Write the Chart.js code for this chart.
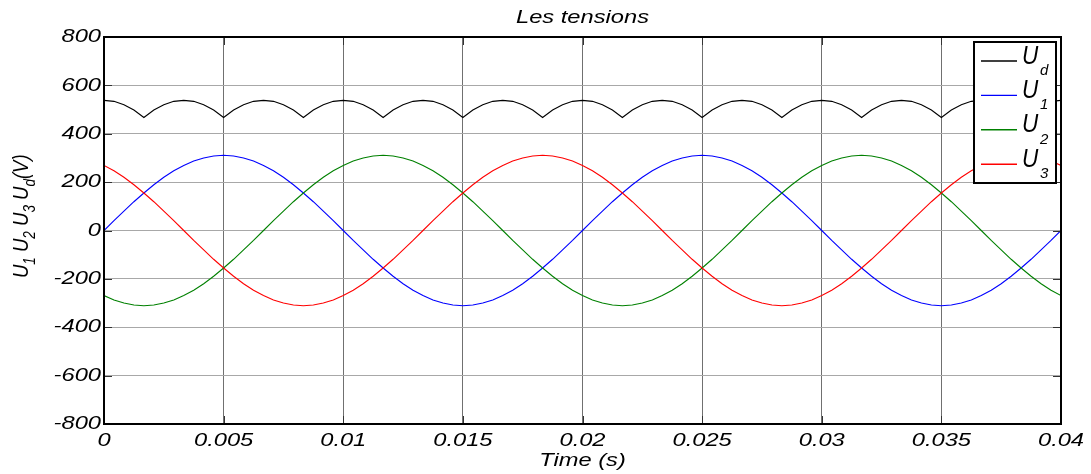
<!DOCTYPE html>
<html>
<head>
<meta charset="utf-8">
<script src="https://cdn.jsdelivr.net/npm/chart.js@4.4.1/dist/chart.umd.min.js"></script>
<style>
  body { margin: 0; background: #fff; }
  canvas { display: block; }
</style>
</head>
<body>
<canvas id="chart" width="1091" height="474"></canvas>
<script>
const time = [
  0, 0.000417, 0.000833, 0.00125, 0.001667, 0.002083, 0.0025, 0.002917, 0.003333, 0.00375, 0.004167, 0.004583,
  0.005, 0.005417, 0.005833, 0.00625, 0.006667, 0.007083, 0.0075, 0.007917, 0.008333, 0.00875, 0.009167, 0.009583,
  0.01, 0.010417, 0.010833, 0.01125, 0.011667, 0.012083, 0.0125, 0.012917, 0.013333, 0.01375, 0.014167, 0.014583,
  0.015, 0.015417, 0.015833, 0.01625, 0.016667, 0.017083, 0.0175, 0.017917, 0.018333, 0.01875, 0.019167, 0.019583,
  0.02, 0.020417, 0.020833, 0.02125, 0.021667, 0.022083, 0.0225, 0.022917, 0.023333, 0.02375, 0.024167, 0.024583,
  0.025, 0.025417, 0.025833, 0.02625, 0.026667, 0.027083, 0.0275, 0.027917, 0.028333, 0.02875, 0.029167, 0.029583,
  0.03, 0.030417, 0.030833, 0.03125, 0.031667, 0.032083, 0.0325, 0.032917, 0.033333, 0.03375, 0.034167, 0.034583,
  0.035, 0.035417, 0.035833, 0.03625, 0.036667, 0.037083, 0.0375, 0.037917, 0.038333, 0.03875, 0.039167, 0.039583,
  0.04
];

const ud = [
  538, 534, 520, 498, 467, 498, 520, 534, 538, 534, 520, 498, 467, 498, 520, 534,
  538, 534, 520, 498, 467, 498, 520, 534, 538, 534, 520, 498, 467, 498, 520, 534,
  538, 534, 520, 498, 467, 498, 520, 534, 538, 534, 520, 498, 467, 498, 520, 534,
  538, 534, 520, 498, 467, 498, 520, 534, 538, 534, 520, 498, 467, 498, 520, 534,
  538, 534, 520, 498, 467, 498, 520, 534, 538, 534, 520, 498, 467, 498, 520, 534,
  538, 534, 520, 498, 467, 498, 520, 534, 538, 534, 520, 498, 467, 498, 520, 534,
  538
];

const u1 = [
  0, 41, 80, 119, 155, 189, 220, 247, 269, 287, 300, 308, 311, 308, 300, 287, 269, 247, 220, 189, 155, 119, 80, 41,
  0, -41, -80, -119, -155, -189, -220, -247, -269, -287, -300, -308, -311, -308, -300, -287, -269, -247, -220, -189, -155, -119, -80, -41,
  0, 41, 80, 119, 155, 189, 220, 247, 269, 287, 300, 308, 311, 308, 300, 287, 269, 247, 220, 189, 155, 119, 80, 41,
  0, -41, -80, -119, -155, -189, -220, -247, -269, -287, -300, -308, -311, -308, -300, -287, -269, -247, -220, -189, -155, -119, -80, -41,
  0
];

const u2 = [
  -269, -287, -300, -308, -311, -308, -300, -287, -269, -247, -220, -189, -155, -119, -80, -41,
  0, 41, 80, 119, 155, 189, 220, 247, 269, 287, 300, 308, 311, 308, 300, 287, 269, 247, 220, 189, 155, 119, 80, 41,
  0, -41, -80, -119, -155, -189, -220, -247, -269, -287, -300, -308, -311, -308, -300, -287, -269, -247, -220, -189, -155, -119, -80, -41,
  0, 41, 80, 119, 155, 189, 220, 247, 269, 287, 300, 308, 311, 308, 300, 287, 269, 247, 220, 189, 155, 119, 80, 41,
  0, -41, -80, -119, -155, -189, -220, -247, -269
];

const u3 = [
  269, 247, 220, 189, 155, 119, 80, 41, 0, -41, -80, -119, -155, -189, -220, -247,
  -269, -287, -300, -308, -311, -308, -300, -287, -269, -247, -220, -189, -155, -119, -80, -41,
  0, 41, 80, 119, 155, 189, 220, 247, 269, 287, 300, 308, 311, 308, 300, 287, 269, 247, 220, 189, 155, 119, 80, 41,
  0, -41, -80, -119, -155, -189, -220, -247, -269, -287, -300, -308, -311, -308, -300, -287, -269, -247, -220, -189, -155, -119, -80, -41,
  0, 41, 80, 119, 155, 189, 220, 247, 269, 287, 300, 308, 311, 308, 300, 287, 269
];

const xTickLabels = ["0", "0.005", "0.01", "0.015", "0.02", "0.025", "0.03", "0.035", "0.04"];
const yTickLabels = ["-800", "-600", "-400", "-200", "0", "200", "400", "600", "800"];

const seriesSub = ["d", "1", "2", "3"];
const seriesColors = ["#000000", "#0000ff", "#008000", "#ff0000"];

const titleText = "Les tensions";
const xTitle = "Time (s)";

/* ---- text helpers (the figure's text is stretched sideways) ---- */
const FONT = '"Liberation Sans", Arial, sans-serif';
const SX = 1.28;

function txt(ctx, s, x, y, size, align, base) {
  ctx.save();
  ctx.translate(x, y);
  ctx.scale(SX, 1);
  ctx.font = "italic " + size + "px " + FONT;
  ctx.fillStyle = "#000";
  ctx.textAlign = align;
  ctx.textBaseline = base;
  ctx.fillText(s, 0, 0);
  ctx.restore();
}

// draws parts left to right from the current origin, subscripts shifted down
function rich(ctx, parts, size, subSize, subDy) {
  let cx = 0;
  ctx.textAlign = "left";
  ctx.textBaseline = "alphabetic";
  parts.forEach(p => {
    ctx.font = "italic " + (p.sub ? subSize : size) + "px " + FONT;
    ctx.fillText(p.t, cx, p.sub ? subDy : 0);
    cx += ctx.measureText(p.t).width;
  });
}

/* ---- frame, ticks, labels, legend ---- */
const decor = {
  id: "decor",
  afterDraw(chart) {
    const { ctx, chartArea: a, scales } = chart;
    const x = scales.x, y = scales.y;
    ctx.save();

    // inward tick marks
    ctx.strokeStyle = "#333";
    ctx.lineWidth = 1;
    ctx.beginPath();
    y.ticks.forEach(t => {
      const py = Math.round(y.getPixelForValue(t.value)) + 0.5;
      ctx.moveTo(a.left, py); ctx.lineTo(a.left + 8, py);
      ctx.moveTo(a.right, py); ctx.lineTo(a.right - 8, py);
    });
    x.ticks.forEach(t => {
      const px = Math.round(x.getPixelForValue(t.value)) + 0.5;
      ctx.moveTo(px, a.top); ctx.lineTo(px, a.top + 8);
      ctx.moveTo(px, a.bottom); ctx.lineTo(px, a.bottom - 8);
    });
    ctx.stroke();

    // axes box
    ctx.strokeStyle = "#000";
    ctx.lineWidth = 2;
    ctx.strokeRect(a.left, a.top, a.right - a.left, a.bottom - a.top);

    // tick labels
    y.ticks.forEach((t, i) => {
      txt(ctx, yTickLabels[i], a.left - 3, y.getPixelForValue(t.value), 18.5, "right", "middle");
    });
    x.ticks.forEach((t, i) => {
      txt(ctx, xTickLabels[i], x.getPixelForValue(t.value), a.bottom + 17, 18.5, "center", "middle");
    });

    // title and x label
    const cx = (a.left + a.right) / 2;
    txt(ctx, titleText, cx, 23, 18.5, "center", "alphabetic");
    txt(ctx, xTitle, cx, 461, 18.5, "center", "middle");

    // y label, rotated, with subscripts
    ctx.save();
    ctx.translate(28, 278);
    ctx.scale(1.22, 1);
    ctx.rotate(-Math.PI / 2);
    ctx.fillStyle = "#000";
    rich(ctx, [
      { t: "U" }, { t: "1", sub: true }, { t: " U" }, { t: "2", sub: true },
      { t: " U" }, { t: "3", sub: true }, { t: " U" }, { t: "d", sub: true }, { t: "(V)" }
    ], 18.5, 13.5, 6);
    ctx.restore();

    // legend box
    const lx = 974, ly = 42, lw = 82, lh = 141;
    ctx.fillStyle = "#fff";
    ctx.fillRect(lx, ly, lw, lh);
    ctx.strokeStyle = "#000";
    ctx.lineWidth = 2;
    ctx.strokeRect(lx, ly, lw, lh);
    seriesSub.forEach((s, i) => {
      const ry = 61 + i * 34.4;
      ctx.strokeStyle = seriesColors[i];
      ctx.lineWidth = 1.4;
      ctx.beginPath();
      ctx.moveTo(981, ry);
      ctx.lineTo(1017, ry);
      ctx.stroke();
      ctx.save();
      ctx.translate(1022, ry + 2.5);
      ctx.scale(0.9, 1);
      ctx.fillStyle = "#000";
      ctx.textAlign = "left";
      ctx.textBaseline = "alphabetic";
      ctx.font = "italic 25px " + FONT;
      ctx.fillText("U", 0, 0);
      ctx.restore();
      ctx.save();
      ctx.translate(1040, ry + 14);
      ctx.fillStyle = "#000";
      ctx.font = "italic 15px " + FONT;
      ctx.fillText(s, 0, 0);
      ctx.restore();
    });

    ctx.restore();
  }
};

function pts(vals) {
  return vals.map((v, i) => ({ x: time[i], y: v }));
}

const lineChart = new Chart(document.getElementById("chart"), {
  type: "line",
  data: {
    datasets: [
      { label: "Ud", data: pts(ud), borderColor: seriesColors[0], order: 3 },
      { label: "U1", data: pts(u1), borderColor: seriesColors[1], order: 2 },
      { label: "U2", data: pts(u2), borderColor: seriesColors[2], order: 1 },
      { label: "U3", data: pts(u3), borderColor: seriesColors[3], order: 0 }
    ]
  },
  options: {
    responsive: false,
    animation: false,
    devicePixelRatio: 1,
    elements: {
      line: { borderWidth: 1.1, tension: 0 },
      point: { radius: 0 }
    },
    layout: { padding: { top: 37, right: 30, left: 0, bottom: 0 } },
    plugins: {
      legend: { display: false },
      title: { display: false },
      tooltip: { enabled: false }
    },
    scales: {
      x: {
        type: "linear",
        min: 0,
        max: 0.04,
        ticks: { stepSize: 0.005, display: false },
        grid: { color: "#707070", drawTicks: false },
        border: { display: false },
        afterFit(s) { s.height = 50; }
      },
      y: {
        min: -800,
        max: 800,
        ticks: { stepSize: 200, display: false },
        grid: { color: "#a8a8a8", drawTicks: false },
        border: { display: false },
        afterFit(s) { s.width = 104; }
      }
    }
  },
  plugins: [decor]
});
</script>
</body>
</html>
